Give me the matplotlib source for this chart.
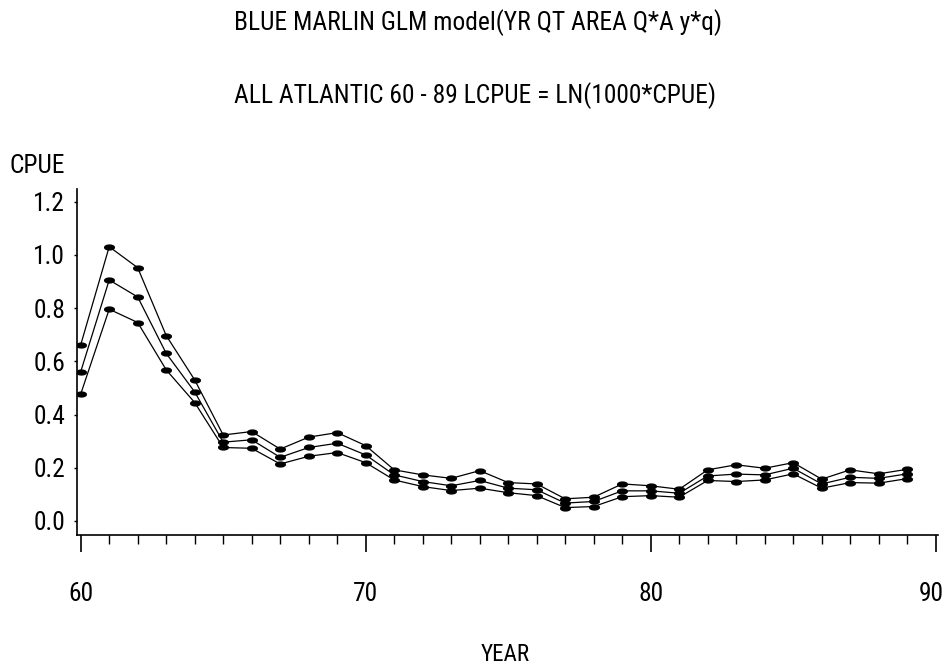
import numpy as np
import matplotlib
matplotlib.use("Agg")
import matplotlib.pyplot as plt
from matplotlib import font_manager as fm
from matplotlib.ticker import MultipleLocator
from matplotlib.transforms import ScaledTranslation

years = np.arange(60, 90)

# upper bound, estimate, lower bound
cpue_upper = [0.662, 1.031, 0.952, 0.697, 0.530, 0.323, 0.336, 0.270, 0.315, 0.332,
              0.283, 0.192, 0.173, 0.160, 0.189, 0.144, 0.139, 0.083, 0.089, 0.139,
              0.132, 0.119, 0.192, 0.211, 0.198, 0.219, 0.157, 0.192, 0.177, 0.194]
cpue_mid = [0.561, 0.906, 0.842, 0.630, 0.485, 0.296, 0.305, 0.239, 0.276, 0.292,
            0.248, 0.173, 0.148, 0.132, 0.152, 0.123, 0.117, 0.067, 0.073, 0.113,
            0.113, 0.104, 0.169, 0.176, 0.173, 0.198, 0.139, 0.164, 0.160, 0.177]
cpue_lower = [0.477, 0.796, 0.746, 0.568, 0.445, 0.276, 0.273, 0.214, 0.243, 0.257,
              0.219, 0.154, 0.129, 0.114, 0.123, 0.106, 0.095, 0.050, 0.054, 0.091,
              0.095, 0.089, 0.152, 0.148, 0.154, 0.177, 0.123, 0.144, 0.142, 0.159]

yticks = [0.0, 0.2, 0.4, 0.6, 0.8, 1.0, 1.2]
xticks = [60, 70, 80, 90]

title1 = 'BLUE MARLIN GLM model(YR QT AREA Q*A y*q)'
title2 = 'ALL ATLANTIC 60 - 89 LCPUE = LN(1000*CPUE)'


# the original uses a narrow sans face; pick one if installed
def pick_font():
    fonts = fm.fontManager.ttflist
    def ok(f):
        return f.style == 'normal' and f.weight in (400, 'normal', 'regular', 'book')
    narrow = [f for f in fonts if ok(f) and (f.stretch != 'normal' and 'expand' not in str(f.stretch)
                                              or 'Narrow' in f.name or 'Condensed' in f.name)]
    for pref in ('Liberation Sans Narrow', 'Arial Narrow', 'Roboto Condensed', 'Noto Sans',
                 'Open Sans', 'DejaVu Sans'):
        for f in narrow:
            if f.name.startswith(pref):
                return f.fname
    if narrow:
        return narrow[0].fname
    return fm.findfont(fm.FontProperties(family='Liberation Sans'))


font_file = pick_font()

fig = plt.figure(figsize=(9.46, 6.71), dpi=100)

# size the text so the top title is as wide as in the original (~487 px)
probe = fig.text(0, 0, title1, fontproperties=fm.FontProperties(fname=font_file, size=20))
w = probe.get_window_extent(fig.canvas.get_renderer()).width
probe.remove()
fs = min(21.0, 20 * 487.0 / w)
fp = fm.FontProperties(fname=font_file, size=fs)

# flat oval marker
t = np.linspace(0, 2 * np.pi, 30)
oval = list(zip(np.cos(t), 0.5 * np.sin(t)))

ax = fig.add_axes([0.0814, 0.2027, 0.9101, 0.5156])

for series in (cpue_upper, cpue_mid, cpue_lower):
    ax.plot(years, series, color='black', lw=0.9, marker=oval, markersize=7,
            markerfacecolor='black', markeredgecolor='black')

ax.set_xlim(59.87, 90.08)
ax.set_ylim(-0.053, 1.248)
ax.set_xticks(xticks)
ax.set_xticklabels([str(x) for x in xticks])
ax.xaxis.set_minor_locator(MultipleLocator(1))
ax.set_yticks(yticks)
ax.set_yticklabels([f'{v:.1f}' for v in yticks])

ax.tick_params(axis='x', which='major', direction='out', length=12, width=1.2, pad=22)
ax.tick_params(axis='x', which='minor', direction='out', length=6.5, width=1.0)
ax.tick_params(axis='y', which='major', direction='out', length=2.5, width=1.0, pad=6)

for lab in ax.get_xticklabels() + ax.get_yticklabels():
    lab.set_fontproperties(fp)

# keep the last year label inside the page
last = ax.get_xticklabels()[-1]
last.set_transform(last.get_transform() + ScaledTranslation(-4 / 100, 0, fig.dpi_scale_trans))

for side in ('top', 'right'):
    ax.spines[side].set_visible(False)
for side in ('left', 'bottom'):
    ax.spines[side].set_linewidth(1.2)

fig.text(0.505, 0.967, title1, ha='center', va='center', fontproperties=fp)
fig.text(0.502, 0.857, title2, ha='center', va='center', fontproperties=fp)
fig.text(0.010, 0.753, 'CPUE', ha='left', va='center', fontproperties=fp)
fig.text(0.534, 0.025, 'YEAR', ha='center', va='center',
         fontproperties=fm.FontProperties(fname=font_file, size=fs * 0.9))

fig.savefig('out.png', dpi=100)
